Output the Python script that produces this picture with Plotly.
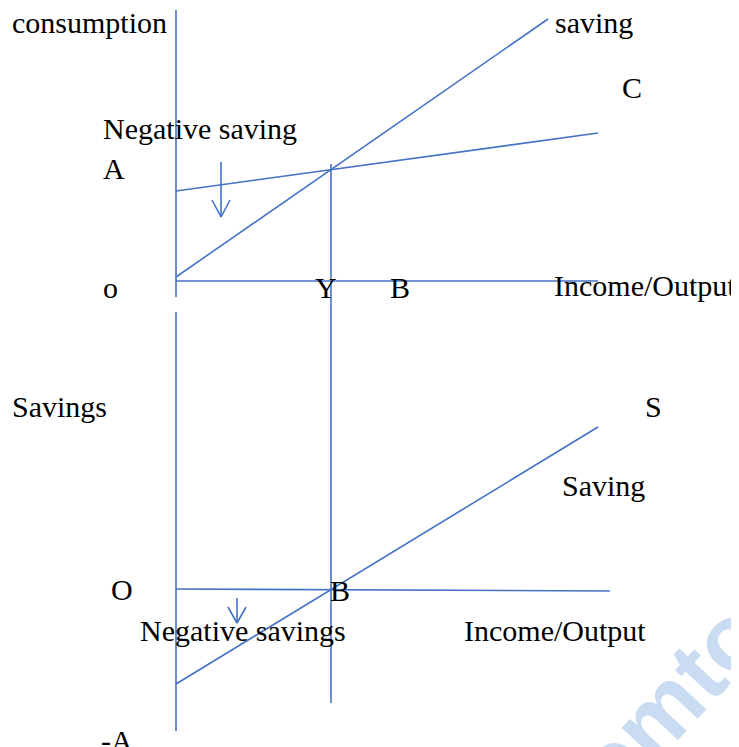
import plotly.graph_objects as go

# diagram values, x = income measured from the origin O, y measured up from each panel's O
# top panel (consumption)
top_axis_x = [0, 0]
top_axis_y = [-16, 271]
top_income_x = [0, 422]
top_income_y = [0, 0]
line45_x = [0, 372]
line45_y = [4, 262]
cons_x = [0, 422]
cons_y = [90, 148]
y_drop_x = [155, 155]
y_drop_y = [117, -422]
arrow_top_x = [45, 45]
arrow_top_y = [119, 64]
arrow_top_head_x = [36, 45, 54]
arrow_top_head_y = [81, 64, 81]

# bottom panel (savings)
bot_axis_x = [0, 0]
bot_axis_y = [278, -141]
bot_income_x = [0, 434]
bot_income_y = [1, -1]
sav_x = [0, 422]
sav_y = [-94, 163]
arrow_bot_x = [61, 61]
arrow_bot_y = [-8, -33]
arrow_bot_head_x = [52, 61, 70]
arrow_bot_head_y = [-17, -33, -17]

# labels: (text, x, y)
top_labels = [("consumption", -166, 259), ("saving", 377, 259), ("C", 444, 194),
              ("Negative saving", -75, 153), ("A", -75, 113), ("o", -75, -6),
              ("Y", 137, -6), ("B", 212, -6), ("Income/Output", 376, -4)]
bot_labels = [("Savings", -166, 184), ("S", 467, 184), ("Saving", 384, 105),
              ("O", -67, 1), ("B", 152, 0), ("Negative savings", -38, -40),
              ("Income/Output", 286, -40), ("-A", -77, -150)]

blue = "#4472C4"
PAD = 8  # page body margin
W, H = 739 - PAD, 747 - PAD
OX, OY_TOP, OY_BOT = 176 - PAD, 281 - PAD, 590 - PAD

fig = go.Figure()


def seg(x, y, axis="y"):
    fig.add_trace(go.Scatter(x=x, y=y, mode="lines", yaxis=axis,
                             line=dict(color=blue, width=1.6),
                             hoverinfo="skip", showlegend=False))


seg(top_axis_x, top_axis_y)
seg(top_income_x, top_income_y)
seg(line45_x, line45_y)
seg(cons_x, cons_y)
seg(y_drop_x, y_drop_y)
seg(arrow_top_x, arrow_top_y)
seg(arrow_top_head_x, arrow_top_head_y)

seg(bot_axis_x, bot_axis_y, "y2")
seg(bot_income_x, bot_income_y, "y2")
seg(sav_x, sav_y, "y2")
seg(arrow_bot_x, arrow_bot_y, "y2")
seg(arrow_bot_head_x, arrow_bot_head_y, "y2")

font = dict(family="Liberation Serif, Times New Roman, serif", size=30, color="black")
annotations = []
for t, x, y in top_labels:
    annotations.append(dict(text=t, x=x, y=y, xref="x", yref="y", xanchor="left",
                            yanchor="middle", showarrow=False, font=font))
for t, x, y in bot_labels:
    annotations.append(dict(text=t, x=x, y=y, xref="x", yref="y2", xanchor="left",
                            yanchor="middle", showarrow=False, font=font))

# faint watermark in the corner
annotations.append(dict(text="<b>emto</b>", x=494, y=-110, xref="x", yref="y2",
                        showarrow=False, textangle=-47,
                        font=dict(family="Liberation Sans, Arial", size=94, color="#c9dcf2")))

fig.update_layout(
    width=W, height=H,
    margin=dict(l=0, r=0, t=0, b=0),
    paper_bgcolor="white", plot_bgcolor="white",
    xaxis=dict(range=[-OX, W - OX], visible=False, fixedrange=True),
    yaxis=dict(range=[OY_TOP - H, OY_TOP], visible=False, fixedrange=True),
    yaxis2=dict(range=[OY_BOT - H, OY_BOT], visible=False, overlaying="y", fixedrange=True),
    annotations=annotations,
    showlegend=False,
)

fig.write_html("out.html")
